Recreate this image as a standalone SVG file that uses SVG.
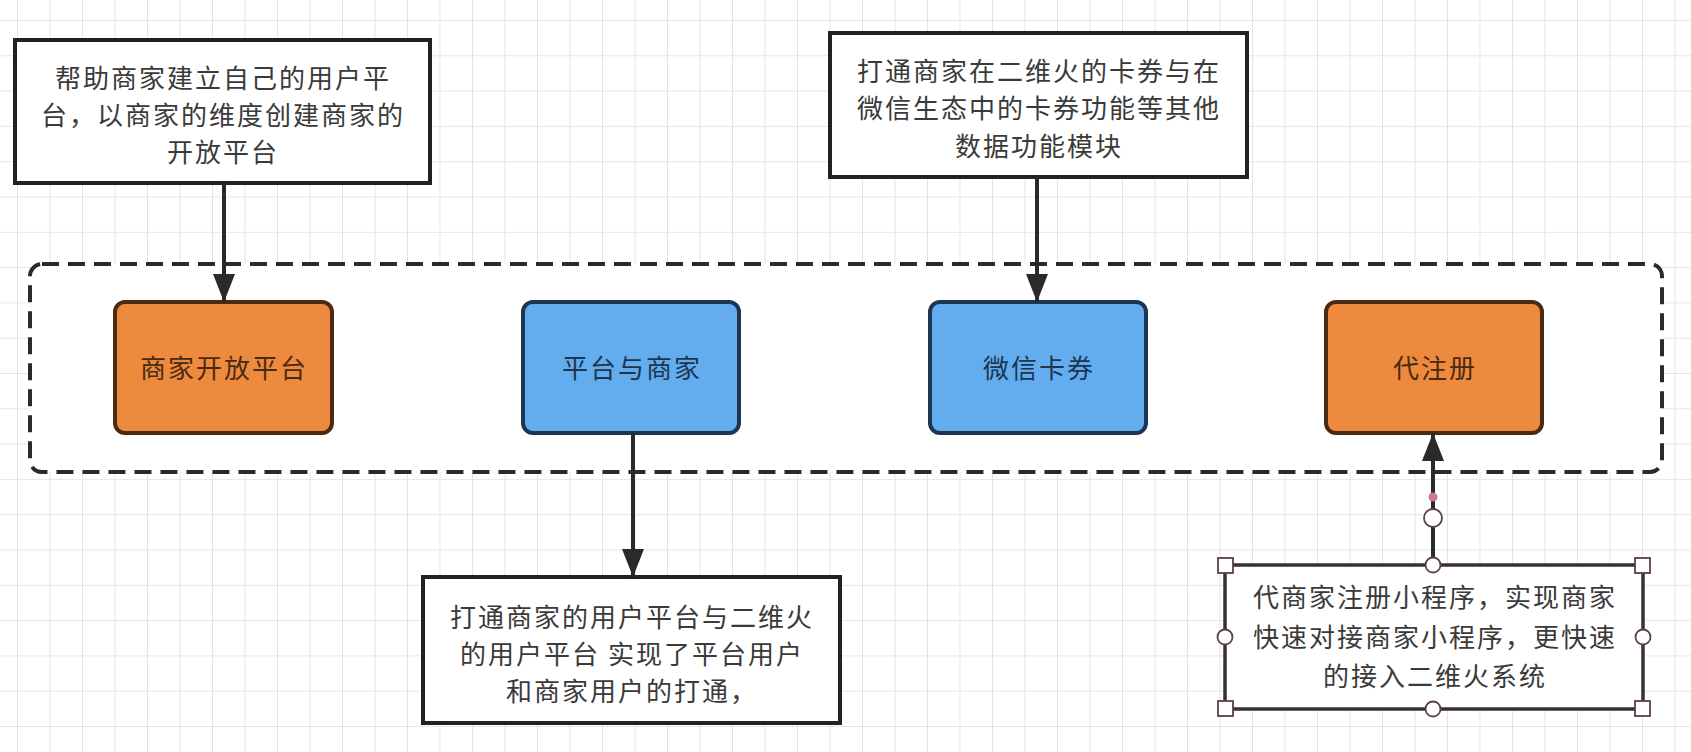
<svg xmlns="http://www.w3.org/2000/svg" width="1691" height="752" viewBox="0 0 1691 752">
<style>
  .t { font-family: "Noto Sans CJK SC", "Noto Sans", sans-serif; font-size: 26px; letter-spacing: 2px; text-anchor: middle; }
  .note { fill: #ffffff; stroke: #222222; stroke-width: 4; }
  .note-t { fill: #3a3a3a; }
  .orange { fill: #ED8A3E; stroke: #4a2a12; stroke-width: 4; }
  .orange-t { fill: #4a2a12; }
  .blue { fill: #63ADEF; stroke: #1d3550; stroke-width: 4; }
  .blue-t { fill: #1d3550; }
  .edge { stroke: #2a2a2a; stroke-width: 4; fill: none; }
  .handle { fill: #ffffff; stroke: #5a4048; stroke-width: 1.8; }
</style>
<defs>
  <pattern id="grid" x="17" y="20" width="32.5" height="35.3" patternUnits="userSpaceOnUse">
    <path d="M0,0 V35.3 M0,0 H32.5" stroke="#dedede" stroke-width="1.6" fill="none"/>
  </pattern>
  <marker id="arrow" markerUnits="userSpaceOnUse" markerWidth="28" markerHeight="22" refX="28" refY="11" orient="auto">
    <path d="M0,0 L28,11 L0,22 Z" fill="#2a2a2a"/>
  </marker>
</defs>
<rect x="0" y="0" width="1691" height="752" fill="#ffffff"/>
<rect x="0" y="0" width="1691" height="752" fill="url(#grid)"/>

<g id="container">
  <rect x="30" y="264" width="1632" height="208" rx="12" fill="#ffffff" stroke="#2a2a2a" stroke-width="4" stroke-dasharray="17 9"/>
</g>

<g id="node-note1">
  <rect class="note" x="15" y="40" width="415" height="143"/>
  <text class="t note-t" x="223" y="88">帮助商家建立自己的用户平</text>
  <text class="t note-t" x="223" y="125">台，以商家的维度创建商家的</text>
  <text class="t note-t" x="223" y="162">开放平台</text>
</g>

<g id="node-note2">
  <rect class="note" x="830" y="33" width="417" height="144"/>
  <text class="t note-t" x="1039" y="81">打通商家在二维火的卡券与在</text>
  <text class="t note-t" x="1039" y="118">微信生态中的卡券功能等其他</text>
  <text class="t note-t" x="1039" y="156">数据功能模块</text>
</g>

<g id="node-open">
  <rect class="orange" x="115" y="302" width="217" height="131" rx="10"/>
  <text class="t orange-t" x="224" y="378">商家开放平台</text>
</g>

<g id="node-platform">
  <rect class="blue" x="523" y="302" width="216" height="131" rx="10"/>
  <text class="t blue-t" x="632" y="378">平台与商家</text>
</g>

<g id="node-wechat">
  <rect class="blue" x="930" y="302" width="216" height="131" rx="10"/>
  <text class="t blue-t" x="1039" y="378">微信卡券</text>
</g>

<g id="node-register">
  <rect class="orange" x="1326" y="302" width="216" height="131" rx="10"/>
  <text class="t orange-t" x="1435" y="378">代注册</text>
</g>

<g id="node-note3">
  <rect class="note" x="423" y="577" width="417" height="146"/>
  <text class="t note-t" x="632" y="627">打通商家的用户平台与二维火</text>
  <text class="t note-t" x="632" y="664">的用户平台 实现了平台用户</text>
  <text class="t note-t" x="632" y="701">和商家用户的打通，</text>
</g>

<g id="node-note4">
  <rect x="1225" y="565" width="418" height="144" fill="#ffffff" stroke="#3a3034" stroke-width="3.5"/>
  <text class="t note-t" x="1435" y="607">代商家注册小程序，实现商家</text>
  <text class="t note-t" x="1435" y="647">快速对接商家小程序，更快速</text>
  <text class="t note-t" x="1435" y="686">的接入二维火系统</text>
</g>

<g id="connectors">
  <line class="edge" x1="224" y1="183" x2="224" y2="302" marker-end="url(#arrow)"/>
  <line class="edge" x1="1037" y1="177" x2="1037" y2="302" marker-end="url(#arrow)"/>
  <line class="edge" x1="633" y1="433" x2="633" y2="577" marker-end="url(#arrow)"/>
  <line class="edge" x1="1433" y1="565" x2="1433" y2="433" marker-end="url(#arrow)"/>
</g>

<g id="selection-handles">
  <rect class="handle" x="1218" y="558" width="15" height="15"/>
  <rect class="handle" x="1635" y="558" width="15" height="15"/>
  <rect class="handle" x="1218" y="701" width="15" height="15"/>
  <rect class="handle" x="1635" y="701" width="15" height="15"/>
  <circle class="handle" cx="1433" cy="565" r="7.5"/>
  <circle class="handle" cx="1433" cy="709" r="7.5"/>
  <circle class="handle" cx="1225" cy="637" r="7.5"/>
  <circle class="handle" cx="1643" cy="637" r="7.5"/>
  <circle class="handle" cx="1433" cy="518" r="9"/>
  <circle cx="1433" cy="497" r="4.5" fill="#cf7890"/>
</g>
</svg>
